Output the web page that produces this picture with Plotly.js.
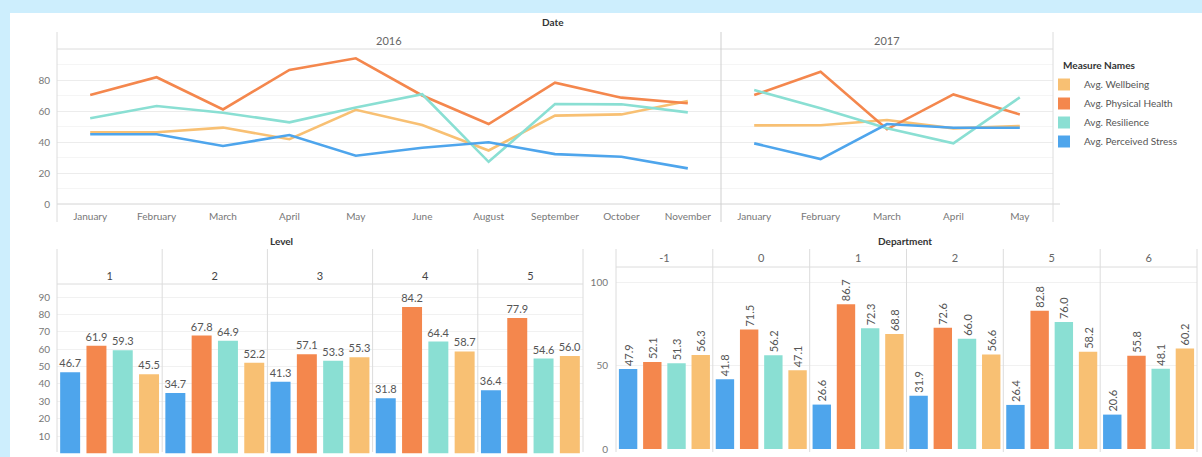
<!DOCTYPE html>
<html>
<head>
<meta charset="utf-8">
<script src="https://cdn.plot.ly/plotly-3.0.1.min.js"></script>
<style>
  html, body { margin: 0; padding: 0; background: #CDEEFD; }
  #chart { width: 1202px; height: 457px; }
</style>
</head>
<body>
<div id="chart"></div>
<script>
// ---------- DATA ----------
const months2016 = ['January','February','March','April','May','June','August','September','October','November'];
const months2017 = ['January','February','March','April','May'];

const wellbeing2016  = [46.2, 46.3, 49.3, 41.8, 60.8, 51.0, 34.5, 57.0, 57.8, 66.5];
const physical2016   = [70.3, 81.8, 61.0, 86.5, 94.0, 70.0, 51.6, 78.3, 68.6, 65.0];
const resilience2016 = [55.3, 63.2, 58.9, 52.7, 62.2, 70.8, 27.2, 64.5, 64.3, 59.1];
const stress2016     = [45.0, 45.0, 37.4, 44.5, 31.1, 36.3, 39.8, 32.2, 30.5, 23.0];

const wellbeing2017  = [50.7, 50.8, 54.2, 48.8, 50.3];
const physical2017   = [70.3, 85.3, 48.2, 70.7, 57.8];
const resilience2017 = [73.5, 61.7, 48.8, 39.1, 68.8];
const stress2017     = [39.1, 29.0, 51.6, 49.2, 49.2];

const levels = ['1','2','3','4','5'];
const levelStress     = [46.7, 34.7, 41.3, 31.8, 36.4];
const levelPhysical   = [61.9, 67.8, 57.1, 84.2, 77.9];
const levelResilience = [59.3, 64.9, 53.3, 64.4, 54.6];
const levelWellbeing  = [45.5, 52.2, 55.3, 58.7, 56.0];

const departments = ['-1','0','1','2','5','6'];
const deptStress     = [47.9, 41.8, 26.6, 31.9, 26.4, 20.6];
const deptPhysical   = [52.1, 71.5, 86.7, 72.6, 82.8, 55.8];
const deptResilience = [51.3, 56.2, 72.3, 66.0, 76.0, 48.1];
const deptWellbeing  = [56.3, 47.1, 68.8, 56.6, 58.2, 60.2];

const seriesNames = ['Avg. Wellbeing','Avg. Physical Health','Avg. Resilience','Avg. Perceived Stress'];

// ---------- STYLE ----------
const W = 1202, H = 457;
const C = {
  wellbeing: '#F8C073',
  physical: '#F4874D',
  resilience: '#8ADFD3',
  stress: '#4EA5EC'
};
const FONT = 'Lato, "Open Sans", sans-serif';
const fx = p => p / W;
const fy = p => 1 - p / H;

// ---------- TRACES ----------
const traces = [];
function line(x, y, xa, color) {
  traces.push({ type: 'scatter', mode: 'lines', x: x, y: y, xaxis: xa, yaxis: 'y',
    line: { color: color, width: 2.6 }, showlegend: false, hoverinfo: 'skip' });
}
line(months2016, wellbeing2016, 'x', C.wellbeing);
line(months2016, physical2016, 'x', C.physical);
line(months2016, resilience2016, 'x', C.resilience);
line(months2016, stress2016, 'x', C.stress);
line(months2017, wellbeing2017, 'x2', C.wellbeing);
line(months2017, physical2017, 'x2', C.physical);
line(months2017, resilience2017, 'x2', C.resilience);
line(months2017, stress2017, 'x2', C.stress);

function bars(x, y, xa, ya, color, name, rank, legend, angle) {
  traces.push({ type: 'bar', x: x, y: y, xaxis: xa, yaxis: ya, name: name,
    marker: { color: color }, showlegend: legend, legendrank: rank,
    text: y.map(v => v.toFixed(1)), textposition: 'outside', textangle: angle,
    constraintext: 'none', cliponaxis: false,
    outsidetextfont: { family: FONT, size: 11, color: '#555' }, hoverinfo: 'skip' });
}
bars(levels, levelStress, 'x3', 'y3', C.stress, seriesNames[3], 4, true, 0);
bars(levels, levelPhysical, 'x3', 'y3', C.physical, seriesNames[1], 2, true, 0);
bars(levels, levelResilience, 'x3', 'y3', C.resilience, seriesNames[2], 3, true, 0);
bars(levels, levelWellbeing, 'x3', 'y3', C.wellbeing, seriesNames[0], 1, true, 0);

bars(departments, deptStress, 'x4', 'y4', C.stress, seriesNames[3], 4, false, -90);
bars(departments, deptPhysical, 'x4', 'y4', C.physical, seriesNames[1], 2, false, -90);
bars(departments, deptResilience, 'x4', 'y4', C.resilience, seriesNames[2], 3, false, -90);
bars(departments, deptWellbeing, 'x4', 'y4', C.wellbeing, seriesNames[0], 1, false, -90);

// ---------- LAYOUT ----------
const tickFont = { family: FONT, size: 10, color: '#777' };
const gridC = '#ececec';
const minorGrid = { showgrid: true, gridcolor: '#f5f5f5', gridwidth: 1 };

const lineC = '#dcdcdc';
const shapes = [
  // white card
  { type: 'rect', xref: 'paper', yref: 'paper', x0: fx(10), x1: fx(1202), y0: fy(457), y1: fy(13),
    fillcolor: '#ffffff', line: { width: 0 }, layer: 'below' },
];
function hline(px0, px1, py, col) {
  shapes.push({ type: 'line', xref: 'paper', yref: 'paper', x0: fx(px0), x1: fx(px1), y0: fy(py), y1: fy(py),
    line: { color: col || lineC, width: 1 } });
}
function vline(px, py0, py1, col) {
  shapes.push({ type: 'line', xref: 'paper', yref: 'paper', x0: fx(px), x1: fx(px), y0: fy(py0), y1: fy(py1),
    line: { color: col || lineC, width: 1 } });
}
// top chart frame
hline(57, 1053, 49);
hline(57, 1060, 204, '#d4d4d4');
vline(57, 32, 222);
vline(721, 32, 222, '#cfcfcf');
vline(1053, 32, 222);
// level chart frame
hline(57, 583, 284);
[57, 162.2, 267.4, 372.6, 477.8, 583].forEach(p => vline(p, 249, 452));
// department chart frame
hline(616, 1197, 267);
[616, 712.8, 809.7, 906.5, 1003.3, 1100.2, 1197].forEach(p => vline(p, 249, 452));

function label(text, px, py, size, color, xanchor) {
  return { text: text, x: fx(px), y: fy(py), xref: 'paper', yref: 'paper', showarrow: false,
    xanchor: xanchor || 'center', yanchor: 'middle',
    font: { family: FONT, size: size, color: color } };
}
const annotations = [
  label('<b>Date</b>', 553, 22, 10, '#333'),
  label('2016', 389, 41, 11, '#666'),
  label('2017', 887, 41, 11, '#666'),
  label('<b>Level</b>', 281, 241, 10, '#333'),
  label('<b>Department</b>', 905, 241, 10, '#333'),
  label('<b>Measure Names</b>', 1061, 65, 10, '#333', 'left'),
];

const layout = {
  width: W, height: H,
  margin: { l: 0, r: 0, t: 0, b: 0 },
  paper_bgcolor: 'rgba(0,0,0,0)',
  plot_bgcolor: 'rgba(0,0,0,0)',
  font: { family: FONT, color: '#666' },
  barmode: 'group', bargap: 0.0, bargroupgap: 0.24,
  showlegend: true,
  legend: {
    x: fx(1044), y: fy(70), xanchor: 'left', yanchor: 'top',
    font: { family: FONT, size: 10, color: '#555' },
    bgcolor: 'rgba(0,0,0,0)', itemclick: false, itemdoubleclick: false, tracegroupgap: 0
  },
  xaxis: { domain: [fx(57), fx(721)], anchor: 'y', type: 'category', categoryarray: months2016,
    range: [-0.5, months2016.length - 0.5],
    showgrid: false, zeroline: false, showline: false, ticks: '', tickfont: tickFont, ticklabelstandoff: 5 },
  xaxis2: { domain: [fx(721), fx(1053)], anchor: 'y', type: 'category', categoryarray: months2017,
    range: [-0.5, months2017.length - 0.5],
    showgrid: false, zeroline: false, showline: false, ticks: '', tickfont: tickFont, ticklabelstandoff: 5 },
  yaxis: { domain: [fy(204), fy(49)], anchor: 'x', range: [0, 100], tickvals: [0, 20, 40, 60, 80],
    showgrid: true, gridcolor: gridC, zeroline: false, showline: false, ticks: '', tickfont: tickFont,
    ticklabelstandoff: 6, minor: Object.assign({ dtick: 10, tick0: 0 }, minorGrid) },
  xaxis3: { domain: [fx(57), fx(583)], anchor: 'y3', type: 'category', categoryarray: levels, side: 'top',
    showgrid: false, zeroline: false, showline: false, ticks: '', ticklabelstandoff: 1,
    tickfont: { family: FONT, size: 11, color: '#444' } },
  yaxis3: { domain: [fy(453.4), fy(284)], anchor: 'x3', range: [0, 97.5], tickvals: [10,20,30,40,50,60,70,80,90],
    showgrid: true, gridcolor: '#f1f1f1', zeroline: false, showline: false, ticks: '', tickfont: tickFont,
    ticklabelstandoff: 6 },
  xaxis4: { domain: [fx(616), fx(1197)], anchor: 'y4', type: 'category', categoryarray: departments, side: 'top',
    showgrid: false, zeroline: false, showline: false, ticks: '', ticklabelstandoff: 2,
    tickfont: { family: FONT, size: 11, color: '#666' } },
  yaxis4: { domain: [fy(449), fy(267)], anchor: 'x4', range: [0, 109], tickvals: [0, 50, 100],
    showgrid: true, gridcolor: '#f1f1f1', zeroline: false, showline: false, ticks: '', tickfont: tickFont,
    ticklabelstandoff: 7 },
  shapes: shapes,
  annotations: annotations
};

Plotly.newPlot('chart', traces, layout, { staticPlot: true, displayModeBar: false });
</script>
</body>
</html>
